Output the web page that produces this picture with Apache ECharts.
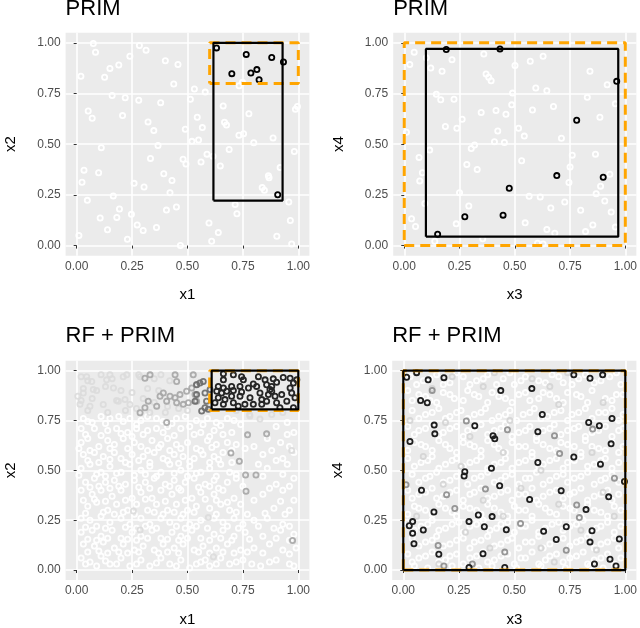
<!DOCTYPE html>
<html>
<head>
<meta charset="utf-8">
<script src="https://cdn.jsdelivr.net/npm/echarts@6/dist/echarts.min.js"></script>
<style>
  html, body { margin: 0; padding: 0; background: #fff; }
  #chart { width: 640px; height: 628px; }
</style>
</head>
<body>
<div id="chart"></div>
<script>
const ticks = [0, 0.25, 0.5, 0.75, 1];
const panelTitles = ["PRIM", "PRIM", "RF + PRIM", "RF + PRIM"];
const xNames = ["x1", "x3", "x1", "x3"];
const yNames = ["x2", "x4", "x2", "x4"];

// boxes: [xmin, xmax, ymin, ymax]
const primBoxes = [
  [0.617, 0.929, 0.222, 1.0],
  [0.098, 0.968, 0.044, 0.970],
  [0.609, 1.0, 0.806, 1.0],
  [0.0, 1.0, 0.0, 1.0]
];
const trueBoxes = [
  [0.6, 1.0, 0.8, 1.0],
  [0.0, 1.0, 0.0, 1.0],
  [0.6, 1.0, 0.8, 1.0],
  [0.0, 1.0, 0.0, 1.0]
];

// top left (x1, x2)
const tlWhite = [
  [0.075,0.997],[0.085,0.954],[0.283,0.987],[0.313,0.964],[0.400,0.912],[0.457,0.893],[0.190,0.891],
  [0.150,0.874],[0.126,0.830],[0.019,0.835],[0.240,0.934],[0.438,0.797],[0.531,0.772],[0.580,0.757],
  [0.513,0.722],[0.379,0.705],[0.280,0.717],[0.219,0.729],[0.160,0.740],[0.052,0.664],[0.070,0.628],
  [0.207,0.641],[0.322,0.610],[0.348,0.567],[0.490,0.574],[0.544,0.633],[0.567,0.582],[0.550,0.521],
  [0.520,0.514],[0.661,0.689],[0.667,0.608],[0.676,0.595],[0.777,0.650],[0.732,0.544],[0.753,0.552],
  [0.799,0.507],[0.886,0.531],[0.987,0.673],[0.996,0.686],[0.982,0.464],[0.918,0.385],[0.865,0.344],
  [0.868,0.334],[0.837,0.286],[0.847,0.273],[0.688,0.474],[0.648,0.393],[0.588,0.451],[0.615,0.441],
  [0.561,0.412],[0.480,0.426],[0.493,0.402],[0.333,0.430],[0.367,0.493],[0.111,0.483],[0.033,0.372],
  [0.024,0.312],[0.099,0.359],[0.393,0.354],[0.430,0.321],[0.259,0.307],[0.304,0.289],[0.421,0.261],
  [0.165,0.245],[0.048,0.223],[0.193,0.180],[0.106,0.136],[0.181,0.139],[0.247,0.154],[0.139,0.078],
  [0.229,0.031],[0.273,0.102],[0.300,0.074],[0.360,0.089],[0.405,0.175],[0.450,0.190],[0.715,0.202],
  [0.723,0.157],[0.597,0.111],[0.639,0.064],[0.609,0.021],[0.468,0.000],[0.010,0.050],[0.903,0.046],
  [0.970,0.008],[0.964,0.124],[0.957,0.215],[0.748,0.805],[0.733,0.788]
];
const tlBlack = [
  [0.631,0.975],[0.765,0.943],[0.880,0.928],[0.933,0.906],[0.700,0.848],[0.786,0.851],
  [0.813,0.868],[0.823,0.818],[0.907,0.251]
];

// top right (x3, x4)
const trWhite = [
  [0.045,0.954],[0.025,0.893],[0.100,0.926],[0.120,0.876],[0.171,0.860],[0.216,0.917],[0.360,0.945],
  [0.370,0.846],[0.382,0.830],[0.393,0.813],[0.501,0.888],[0.570,0.909],[0.628,0.934],[0.595,0.777],
  [0.645,0.764],[0.490,0.752],[0.840,0.860],[0.918,0.793],[0.955,0.699],[0.828,0.731],[0.675,0.686],
  [0.580,0.669],[0.460,0.648],[0.415,0.666],[0.486,0.694],[0.348,0.656],[0.262,0.623],[0.225,0.722],
  [0.165,0.719],[0.145,0.747],[0.186,0.587],[0.238,0.579],[0.423,0.565],[0.517,0.579],[0.543,0.540],
  [0.408,0.512],[0.453,0.509],[0.711,0.529],[0.885,0.633],[0.010,0.559],[0.067,0.435],[0.115,0.471],
  [0.082,0.359],[0.070,0.319],[0.303,0.479],[0.318,0.496],[0.283,0.400],[0.330,0.375],[0.531,0.418],
  [0.760,0.446],[0.865,0.451],[0.750,0.388],[0.930,0.352],[0.745,0.311],[0.888,0.293],[0.868,0.256],
  [0.907,0.220],[0.936,0.165],[0.798,0.174],[0.726,0.215],[0.663,0.185],[0.615,0.240],[0.565,0.243],
  [0.250,0.261],[0.292,0.195],[0.093,0.207],[0.235,0.107],[0.033,0.132],[0.051,0.094],[0.138,0.021],
  [0.355,0.033],[0.547,0.112],[0.645,0.079],[0.681,0.061],[0.603,0.012],[0.628,0.008],[0.820,0.069],
  [0.853,0.102],[0.955,0.091]
];
const trBlack = [
  [0.190,0.967],[0.433,0.970],[0.961,0.810],[0.780,0.618],[0.690,0.345],[0.900,0.337],
  [0.475,0.283],[0.274,0.142],[0.447,0.150],[0.151,0.056]
];

// bottom left (x1, x2)
const blWhite = [
  [0.03,0.76],[0.07,0.74],[0.11,0.77],[0.15,0.76],[0.19,0.77],[0.24,0.76],[0.29,0.75],[0.32,0.77],
  [0.36,0.76],[0.41,0.72],[0.45,0.76],[0.49,0.77],[0.54,0.75],[0.59,0.76],[0.63,0.74],[0.68,0.76],
  [0.74,0.73],[0.95,0.74],[0.98,0.69],[0.02,0.71],[0.08,0.71],[0.14,0.70],[0.18,0.71],[0.23,0.69],
  [0.27,0.71],[0.32,0.70],[0.36,0.71],[0.47,0.71],[0.51,0.72],[0.56,0.69],[0.62,0.70],[0.66,0.68],
  [0.02,0.64],[0.05,0.66],[0.10,0.62],[0.14,0.65],[0.17,0.63],[0.21,0.66],[0.26,0.64],[0.29,0.62],
  [0.34,0.65],[0.38,0.63],[0.41,0.66],[0.45,0.63],[0.50,0.64],[0.54,0.61],[0.59,0.65],[0.63,0.63],
  [0.68,0.64],[0.72,0.63],[0.80,0.62],[0.92,0.64],[0.98,0.59],[0.03,0.58],[0.08,0.59],[0.12,0.57],
  [0.17,0.59],[0.20,0.56],[0.25,0.58],[0.30,0.57],[0.35,0.59],[0.39,0.56],[0.44,0.58],[0.48,0.57],
  [0.53,0.56],[0.57,0.58],[0.62,0.57],[0.66,0.59],[0.84,0.58],[0.93,0.56],
  [0.02,0.51],[0.06,0.53],[0.11,0.49],[0.15,0.52],[0.20,0.49],[0.24,0.53],[0.29,0.50],[0.33,0.52],
  [0.38,0.49],[0.42,0.53],[0.47,0.50],[0.51,0.52],[0.56,0.49],[0.60,0.51],[0.65,0.53],[0.69,0.49],
  [0.86,0.51],[0.95,0.53],[0.98,0.46],[0.04,0.44],[0.08,0.46],[0.13,0.44],[0.17,0.45],[0.22,0.43],
  [0.26,0.45],[0.31,0.44],[0.35,0.46],[0.40,0.43],[0.44,0.45],[0.49,0.44],[0.53,0.46],[0.58,0.43],
  [0.62,0.45],[0.68,0.44],[0.72,0.46],[0.90,0.43],
  [0.02,0.40],[0.07,0.38],[0.11,0.40],[0.16,0.37],[0.20,0.40],[0.25,0.36],[0.29,0.39],[0.34,0.36],
  [0.38,0.40],[0.43,0.38],[0.47,0.40],[0.52,0.36],[0.56,0.39],[0.62,0.38],[0.66,0.40],[0.71,0.36],
  [0.84,0.38],[0.93,0.40],[0.98,0.35],[0.05,0.32],[0.09,0.34],[0.14,0.30],[0.18,0.33],[0.23,0.30],
  [0.27,0.33],[0.32,0.30],[0.36,0.33],[0.41,0.30],[0.45,0.33],[0.50,0.30],[0.54,0.32],[0.60,0.31],
  [0.65,0.33],[0.69,0.30],[0.74,0.33],[0.89,0.31],[0.96,0.30],
  [0.02,0.26],[0.06,0.25],[0.11,0.27],[0.15,0.24],[0.20,0.26],[0.24,0.23],[0.29,0.26],[0.33,0.23],
  [0.38,0.26],[0.42,0.24],[0.47,0.26],[0.51,0.23],[0.56,0.25],[0.62,0.26],[0.66,0.24],[0.71,0.26],
  [0.75,0.23],[0.80,0.25],[0.86,0.26],[0.93,0.23],[0.02,0.19],[0.07,0.20],[0.11,0.17],[0.16,0.20],
  [0.20,0.16],[0.25,0.19],[0.29,0.17],[0.34,0.20],[0.38,0.16],[0.43,0.19],[0.47,0.17],[0.52,0.20],
  [0.56,0.16],[0.62,0.18],[0.66,0.20],[0.71,0.17],[0.76,0.19],[0.84,0.17],[0.92,0.20],[0.98,0.18],
  [0.03,0.13],[0.08,0.12],[0.12,0.14],[0.17,0.11],[0.21,0.13],[0.26,0.10],[0.30,0.12],[0.35,0.10],
  [0.39,0.13],[0.44,0.11],[0.48,0.13],[0.53,0.10],[0.57,0.12],[0.63,0.11],[0.68,0.13],[0.74,0.10],
  [0.80,0.11],[0.87,0.13],[0.93,0.10],[0.99,0.11],[0.02,0.06],[0.06,0.04],[0.11,0.07],[0.15,0.03],
  [0.20,0.06],[0.24,0.02],[0.29,0.05],[0.33,0.02],[0.38,0.06],[0.42,0.03],[0.47,0.05],[0.51,0.01],
  [0.56,0.04],[0.60,0.02],[0.65,0.06],[0.69,0.03],[0.75,0.05],[0.83,0.02],[0.90,0.05],[0.96,0.03]
];
const blWhite2 = [
  [0.05,0.745],[0.13,0.735],[0.21,0.745],[0.27,0.73],[0.39,0.745],[0.43,0.735],[0.57,0.73],[0.65,0.725],
  [0.71,0.75],[0.90,0.72],[0.04,0.68],[0.11,0.675],[0.20,0.685],[0.25,0.67],[0.30,0.68],[0.39,0.69],
  [0.44,0.675],[0.53,0.68],[0.60,0.67],[0.70,0.69],[0.86,0.66],[0.95,0.68],[0.01,0.61],[0.06,0.60],
  [0.15,0.61],[0.23,0.61],[0.32,0.60],[0.37,0.615],[0.42,0.60],[0.47,0.61],[0.56,0.60],[0.61,0.615],
  [0.70,0.60],[0.76,0.61],[0.88,0.60],[0.96,0.62],[0.05,0.55],[0.10,0.54],[0.15,0.555],[0.22,0.54],
  [0.28,0.55],[0.33,0.54],[0.41,0.55],[0.46,0.535],[0.51,0.545],[0.60,0.54],[0.64,0.555],[0.70,0.54],
  [0.82,0.53],[0.90,0.55],[0.01,0.475],[0.09,0.48],[0.13,0.47],[0.18,0.485],[0.26,0.475],[0.31,0.48],
  [0.36,0.47],[0.44,0.485],[0.50,0.47],[0.54,0.485],[0.63,0.47],[0.72,0.48],[0.84,0.47],[0.93,0.48],
  [0.06,0.415],[0.10,0.42],[0.15,0.41],[0.19,0.42],[0.28,0.415],[0.33,0.41],[0.42,0.42],[0.46,0.41],
  [0.55,0.415],[0.60,0.42],[0.64,0.41],[0.75,0.42],[0.87,0.41],[0.96,0.42],[0.03,0.35],[0.08,0.355],
  [0.13,0.345],[0.22,0.35],[0.31,0.355],[0.40,0.345],[0.49,0.35],[0.58,0.355],[0.63,0.35],[0.68,0.34],
  [0.80,0.35],[0.92,0.345],[0.04,0.285],[0.12,0.29],[0.17,0.28],[0.21,0.29],[0.26,0.28],[0.35,0.29],
  [0.39,0.28],[0.44,0.29],[0.48,0.28],[0.53,0.29],[0.63,0.28],[0.72,0.29],[0.77,0.28],[0.85,0.285],
  [0.94,0.28],[0.04,0.215],[0.09,0.22],[0.13,0.21],[0.22,0.215],[0.27,0.21],[0.31,0.22],[0.36,0.21],
  [0.45,0.22],[0.49,0.21],[0.54,0.22],[0.59,0.21],[0.68,0.22],[0.73,0.21],[0.82,0.22],[0.89,0.21],
  [0.96,0.22],[0.05,0.155],[0.09,0.15],[0.14,0.16],[0.23,0.155],[0.27,0.15],[0.32,0.16],[0.41,0.155],
  [0.46,0.15],[0.50,0.16],[0.60,0.15],[0.65,0.16],[0.70,0.15],[0.78,0.155],[0.90,0.16],[0.96,0.15],
  [0.05,0.09],[0.10,0.095],[0.14,0.085],[0.19,0.09],[0.23,0.085],[0.28,0.09],[0.37,0.085],[0.41,0.09],
  [0.46,0.085],[0.55,0.09],[0.60,0.085],[0.66,0.09],[0.71,0.085],[0.77,0.09],[0.84,0.085],[0.96,0.08],
  [0.04,0.03],[0.09,0.02],[0.13,0.045],[0.18,0.03],[0.27,0.03],[0.36,0.035],[0.45,0.02],[0.54,0.03],
  [0.58,0.05],[0.63,0.03],[0.72,0.04],[0.79,0.03],[0.87,0.04],[0.98,0.02]
];
const blLight = [
  [0.02,0.97],[0.05,0.95],[0.11,0.98],[0.16,0.96],[0.21,0.97],[0.28,0.98],[0.35,0.96],[0.38,0.98],
  [0.42,0.95],[0.03,0.91],[0.09,0.90],[0.13,0.92],[0.20,0.90],[0.25,0.89],[0.32,0.91],[0.37,0.90],
  [0.02,0.85],[0.07,0.86],[0.12,0.83],[0.18,0.85],[0.24,0.83],[0.30,0.86],[0.35,0.84],[0.41,0.82],
  [0.46,0.81],[0.50,0.80],[0.05,0.80],[0.14,0.79],[0.22,0.80],[0.27,0.81],[0.33,0.79],[0.40,0.79],
  [0.72,0.80],[0.78,0.78],[0.88,0.78],[0.93,0.79],[0.188,0.847],[0.218,0.855],[0.015,0.831],
  [0.030,0.888],[0.005,0.872],[0.150,0.979],[0.068,0.946],[0.045,0.970],[0.075,0.905],[0.166,0.913],
  [0.135,0.954],[0.226,0.979],[0.286,0.970],[0.782,0.773],[0.827,0.757],[0.060,0.822],
  [0.617,0.066],[0.286,0.201],[0.256,0.296],[0.594,0.263],[0.970,0.600]
];
const blMid = [
  [0.526,0.979],[0.541,0.930],[0.519,0.913],[0.496,0.897],[0.466,0.880],[0.444,0.864],[0.421,0.872],
  [0.406,0.847],[0.451,0.839],[0.481,0.831],[0.504,0.839],[0.534,0.880],[0.541,0.847],[0.361,0.822],
  [0.323,0.847],[0.308,0.814],[0.286,0.789],[0.376,0.872],[0.391,0.888],[0.308,0.962],[0.331,0.979],
  [0.444,0.979],[0.451,0.946],[0.771,0.678],[0.857,0.683],[0.696,0.587],[0.734,0.546],[0.762,0.477],
  [0.809,0.477],[0.406,0.740],[0.764,0.395],[0.974,0.148]
];
const blGray = [
  [0.602,0.905],[0.579,0.888],[0.571,0.946],[0.556,0.938],[0.541,0.929],[0.586,0.847],[0.579,0.814],
  [0.594,0.806],[0.564,0.798],[0.541,0.880],[0.534,0.847]
];
const blDark = [
  [0.662,0.984],[0.662,0.954],[0.707,0.979],[0.744,0.970],[0.752,0.954],[0.820,0.970],[0.850,0.954],
  [0.887,0.959],[0.902,0.942],[0.932,0.966],[0.963,0.962],[0.978,0.938],[0.857,0.929],[0.880,0.921],
  [0.872,0.905],[0.797,0.933],[0.775,0.913],[0.737,0.921],[0.699,0.921],[0.662,0.913],[0.639,0.921],
  [0.632,0.897],[0.654,0.888],[0.677,0.897],[0.707,0.900],[0.744,0.893],[0.737,0.872],[0.699,0.872],
  [0.669,0.855],[0.639,0.864],[0.624,0.839],[0.662,0.831],[0.707,0.839],[0.729,0.822],[0.782,0.864],
  [0.827,0.888],[0.835,0.855],[0.865,0.880],[0.895,0.872],[0.880,0.897],[0.925,0.880],[0.963,0.913],
  [0.970,0.888],[0.985,0.864],[0.948,0.847],[0.902,0.839],[0.835,0.831],[0.797,0.831],[0.759,0.831],
  [0.917,0.814],[0.978,0.814],[0.857,0.847],[0.812,0.921],[0.993,0.954]
];

// bottom right (x3, x4)
const brWhite = [
  [0.03,0.97],[0.09,0.95],[0.15,0.98],[0.21,0.94],[0.27,0.97],[0.33,0.95],[0.38,0.98],[0.45,0.96],
  [0.50,0.93],[0.55,0.97],[0.61,0.95],[0.67,0.98],[0.72,0.94],[0.79,0.96],[0.86,0.94],[0.93,0.97],
  [0.98,0.93],[0.02,0.90],[0.07,0.88],[0.12,0.85],[0.18,0.89],[0.23,0.86],[0.29,0.90],[0.34,0.87],
  [0.40,0.89],[0.46,0.86],[0.52,0.88],[0.57,0.85],[0.63,0.89],[0.69,0.86],[0.74,0.89],[0.80,0.87],
  [0.85,0.90],[0.91,0.86],[0.96,0.88],[0.04,0.80],[0.10,0.78],[0.16,0.81],[0.21,0.77],[0.26,0.80],
  [0.32,0.78],[0.37,0.81],[0.43,0.77],[0.48,0.80],[0.54,0.78],[0.59,0.81],[0.65,0.77],[0.71,0.80],
  [0.76,0.78],[0.82,0.81],[0.88,0.79],[0.94,0.81],[0.99,0.78],[0.02,0.72],[0.07,0.70],[0.13,0.73],
  [0.18,0.69],[0.24,0.72],[0.29,0.70],[0.35,0.73],[0.41,0.70],[0.46,0.73],[0.52,0.69],[0.57,0.72],
  [0.63,0.70],[0.68,0.73],[0.74,0.70],[0.79,0.72],[0.85,0.69],[0.91,0.72],[0.97,0.70],[0.05,0.64],
  [0.10,0.62],[0.16,0.65],[0.21,0.61],[0.27,0.64],[0.32,0.62],[0.38,0.65],[0.43,0.61],[0.49,0.64],
  [0.55,0.62],[0.60,0.65],[0.66,0.61],[0.71,0.64],[0.77,0.62],[0.82,0.65],[0.88,0.61],[0.94,0.64],
  [0.99,0.62],[0.02,0.56],[0.08,0.54],[0.13,0.57],[0.19,0.53],[0.24,0.56],[0.30,0.54],[0.35,0.57],
  [0.41,0.53],[0.46,0.56],[0.52,0.54],[0.58,0.57],[0.63,0.53],[0.69,0.56],[0.74,0.54],[0.80,0.57],
  [0.86,0.53],[0.91,0.56],[0.97,0.54],[0.04,0.48],[0.10,0.46],[0.15,0.49],[0.21,0.45],[0.27,0.48],
  [0.32,0.46],[0.38,0.49],[0.44,0.45],[0.49,0.48],[0.55,0.46],[0.60,0.49],[0.66,0.45],[0.72,0.48],
  [0.77,0.46],[0.83,0.49],[0.89,0.45],[0.94,0.48],[0.02,0.40],[0.07,0.38],[0.13,0.41],[0.18,0.37],
  [0.24,0.40],[0.30,0.38],[0.35,0.41],[0.41,0.37],[0.47,0.40],[0.52,0.38],[0.58,0.41],[0.63,0.37],
  [0.69,0.40],[0.75,0.38],[0.80,0.41],[0.86,0.37],[0.92,0.40],[0.97,0.38],[0.05,0.32],[0.10,0.30],
  [0.16,0.33],[0.22,0.29],[0.27,0.32],[0.33,0.30],[0.38,0.33],[0.44,0.29],[0.50,0.32],[0.55,0.30],
  [0.61,0.33],[0.66,0.29],[0.72,0.32],[0.77,0.30],[0.83,0.33],[0.89,0.29],[0.95,0.32],[0.02,0.24],
  [0.08,0.22],[0.13,0.25],[0.19,0.21],[0.25,0.24],[0.30,0.22],[0.36,0.25],[0.42,0.21],[0.47,0.24],
  [0.53,0.22],[0.58,0.25],[0.64,0.21],[0.70,0.24],[0.75,0.22],[0.81,0.25],[0.87,0.21],[0.92,0.24],
  [0.98,0.22],[0.04,0.16],[0.10,0.14],[0.15,0.17],[0.21,0.13],[0.27,0.16],[0.32,0.14],[0.38,0.17],
  [0.44,0.13],[0.49,0.16],[0.55,0.14],[0.61,0.17],[0.66,0.13],[0.72,0.16],[0.78,0.14],[0.83,0.17],
  [0.89,0.13],[0.95,0.16],[0.02,0.08],[0.07,0.06],[0.13,0.09],[0.19,0.05],[0.24,0.08],[0.30,0.06],
  [0.36,0.09],[0.41,0.05],[0.47,0.08],[0.53,0.06],[0.58,0.09],[0.64,0.05],[0.69,0.08],[0.75,0.06],
  [0.81,0.09],[0.86,0.05],[0.92,0.08],[0.98,0.06],[0.05,0.02],[0.11,0.01],[0.22,0.02],[0.34,0.01],
  [0.40,0.02],[0.51,0.01],[0.62,0.02],[0.73,0.01],[0.84,0.02],[0.90,0.01]
];
const brWhite2 = [
  [0.06,0.93],[0.12,0.96],[0.18,0.93],[0.24,0.99],[0.30,0.93],[0.36,0.96],[0.42,0.93],[0.48,0.99],
  [0.53,0.95],[0.64,0.94],[0.70,0.97],[0.76,0.93],[0.82,0.98],[0.89,0.95],[0.96,0.99],[0.04,0.85],
  [0.10,0.87],[0.15,0.84],[0.21,0.88],[0.27,0.85],[0.32,0.88],[0.38,0.84],[0.43,0.87],[0.49,0.84],
  [0.55,0.89],[0.61,0.86],[0.66,0.88],[0.72,0.84],[0.78,0.88],[0.83,0.84],[0.94,0.85],[0.99,0.88],
  [0.07,0.76],[0.13,0.79],[0.19,0.76],[0.24,0.79],[0.29,0.76],[0.35,0.79],[0.40,0.75],[0.46,0.78],
  [0.51,0.75],[0.57,0.79],[0.62,0.76],[0.68,0.79],[0.74,0.75],[0.79,0.79],[0.85,0.76],[0.91,0.79],
  [0.97,0.75],[0.05,0.68],[0.10,0.71],[0.16,0.68],[0.21,0.71],[0.27,0.67],[0.32,0.71],[0.38,0.68],
  [0.44,0.71],[0.49,0.67],[0.55,0.70],[0.60,0.67],[0.66,0.71],[0.71,0.68],[0.77,0.71],[0.82,0.67],
  [0.88,0.70],[0.94,0.67],[0.99,0.71],[0.02,0.60],[0.08,0.63],[0.13,0.60],[0.19,0.63],[0.24,0.59],
  [0.30,0.63],[0.35,0.60],[0.41,0.63],[0.46,0.59],[0.52,0.62],[0.58,0.59],[0.63,0.63],[0.69,0.60],
  [0.74,0.63],[0.80,0.59],[0.85,0.62],[0.91,0.60],[0.97,0.59],[0.05,0.52],[0.11,0.55],[0.16,0.51],
  [0.22,0.55],[0.27,0.52],[0.33,0.55],[0.38,0.51],[0.44,0.54],[0.49,0.51],[0.55,0.55],[0.61,0.52],
  [0.66,0.55],[0.72,0.51],[0.77,0.55],[0.83,0.52],[0.89,0.55],[0.94,0.51],[0.07,0.44],[0.12,0.47],
  [0.18,0.44],[0.24,0.47],[0.29,0.43],[0.35,0.47],[0.41,0.44],[0.46,0.47],[0.52,0.43],[0.57,0.46],
  [0.63,0.43],[0.69,0.47],[0.74,0.44],[0.80,0.47],[0.86,0.43],[0.91,0.46],[0.97,0.44],[0.04,0.36],
  [0.10,0.39],[0.15,0.36],[0.21,0.39],[0.27,0.35],[0.32,0.39],[0.38,0.36],[0.44,0.39],[0.49,0.35],
  [0.55,0.38],[0.60,0.35],[0.66,0.39],[0.72,0.36],[0.77,0.39],[0.83,0.35],[0.89,0.38],[0.94,0.35],
  [0.02,0.28],[0.07,0.31],[0.13,0.28],[0.19,0.31],[0.24,0.27],[0.30,0.31],[0.35,0.28],[0.41,0.31],
  [0.47,0.27],[0.52,0.30],[0.58,0.27],[0.64,0.31],[0.69,0.28],[0.75,0.31],[0.80,0.27],[0.86,0.30],
  [0.92,0.27],[0.98,0.30],[0.05,0.20],[0.11,0.23],[0.16,0.20],[0.22,0.23],[0.27,0.19],[0.33,0.23],
  [0.39,0.20],[0.44,0.23],[0.50,0.19],[0.55,0.22],[0.61,0.19],[0.67,0.23],[0.72,0.20],[0.78,0.23],
  [0.84,0.19],[0.89,0.22],[0.95,0.19],[0.07,0.12],[0.13,0.15],[0.18,0.12],[0.24,0.15],[0.30,0.11],
  [0.35,0.15],[0.41,0.12],[0.47,0.15],[0.52,0.11],[0.58,0.14],[0.63,0.11],[0.69,0.15],[0.75,0.12],
  [0.80,0.15],[0.86,0.11],[0.92,0.14],[0.97,0.11],[0.04,0.04],[0.10,0.07],[0.16,0.04],[0.21,0.07],
  [0.27,0.03],[0.33,0.07],[0.38,0.04],[0.44,0.07],[0.50,0.03],[0.55,0.06],[0.61,0.03],[0.66,0.07],
  [0.72,0.04],[0.78,0.07],[0.83,0.03],[0.89,0.06],[0.95,0.03]
];
const brLight = [
  [0.13,0.91],[0.22,0.97],[0.36,0.92],[0.41,0.99],[0.58,0.96],[0.66,0.92],[0.74,0.99],[0.03,0.75],
  [0.19,0.74],[0.30,0.67],[0.48,0.75],[0.70,0.83],[0.90,0.84],[0.09,0.57],[0.26,0.52],[0.45,0.59],
  [0.62,0.50],[0.85,0.59],[0.18,0.43],[0.36,0.35],[0.53,0.41],[0.70,0.33],[0.90,0.39],[0.06,0.27],
  [0.28,0.19],[0.45,0.27],[0.62,0.11],[0.80,0.20],[0.95,0.27],[0.16,0.03],[0.39,0.11],[0.68,0.04],
  [0.87,0.10]
];
const brMid = [
  [0.130,0.901],[0.284,0.748],[0.469,0.704],[0.681,0.674],[0.704,0.584],[0.853,0.707],[0.370,0.406],
  [0.781,0.326],[0.195,0.378],[0.232,0.309],[0.528,0.234],[0.793,0.263],[0.157,0.123],[0.457,0.090],
  [0.311,0.030],[0.183,0.020],[0.734,0.099],[0.951,0.461],[0.012,0.428]
];
const brDark = [
  [0.015,0.967],[0.060,0.990],[0.112,0.954],[0.183,0.965],[0.078,0.850],[0.108,0.839],[0.439,0.900],
  [0.579,0.910],[0.626,0.780],[0.768,0.979],[0.841,0.962],[0.898,0.979],[0.030,0.645],[0.139,0.727],
  [0.142,0.683],[0.322,0.724],[0.404,0.674],[0.412,0.658],[0.606,0.694],[0.606,0.539],[0.768,0.567],
  [0.835,0.740],[0.883,0.724],[0.940,0.760],[0.936,0.633],[0.888,0.531],[0.397,0.510],[0.277,0.493],
  [0.274,0.472],[0.082,0.400],[0.434,0.423],[0.711,0.398],[0.569,0.354],[0.823,0.303],[0.925,0.367],
  [0.138,0.291],[0.296,0.243],[0.338,0.276],[0.400,0.268],[0.365,0.217],[0.464,0.202],[0.632,0.194],
  [0.734,0.217],[0.850,0.197],[0.042,0.243],[0.027,0.222],[0.042,0.184],[0.090,0.201],[0.048,0.132],
  [0.160,0.079],[0.359,0.082],[0.689,0.153],[0.841,0.140],[0.973,0.156],[0.931,0.054],[0.861,0.030],
  [0.958,0.020],[0.296,0.013],[0.457,0.013],[0.996,0.444]
];

// layout of the four panels (pixels)
const grids = [
  { left: 65.6, top: 32.7, width: 243.8, height: 223 },
  { left: 393.2, top: 32.7, width: 243.8, height: 223 },
  { left: 65.6, top: 360.7, width: 243.8, height: 222.6 },
  { left: 392.2, top: 360.7, width: 244.8, height: 222.6 }
];

const font = "Liberation Sans, Arial, Helvetica, sans-serif";

function makeAxis(i, isX) {
  return {
    type: "value",
    gridIndex: i,
    min: -0.05,
    max: 1.05,
    name: isX ? xNames[i] : yNames[i],
    nameLocation: "middle",
    nameGap: isX ? 32 : 47,
    nameTextStyle: { color: "#000", fontSize: 15, fontFamily: font },
    axisLine: { show: false },
    axisTick: { show: true, length: 3, lineStyle: { color: "#333", width: 1 }, customValues: ticks },
    axisLabel: {
      customValues: ticks,
      color: "#4d4d4d",
      fontSize: 12,
      fontFamily: font,
      margin: 5,
      formatter: v => v.toFixed(2)
    },
    splitLine: { show: true, lineStyle: { color: "#fff", width: 1.6 } }
  };
}

function ring(i, data, color, opacity, z) {
  return {
    type: "scatter",
    xAxisIndex: i,
    yAxisIndex: i,
    data: data,
    symbolSize: 5.2,
    silent: true,
    z: z || 2,
    itemStyle: { color: "rgba(0,0,0,0)", borderColor: color, borderWidth: 1.8, opacity: opacity }
  };
}

function rect(i, b, dashed) {
  return {
    type: "line",
    xAxisIndex: i,
    yAxisIndex: i,
    data: [[b[0], b[2]], [b[1], b[2]], [b[1], b[3]], [b[0], b[3]], [b[0], b[2]]],
    symbol: "none",
    silent: true,
    z: dashed ? 4 : 5,
    lineStyle: dashed
      ? { color: "#FFA500", width: 3, type: [10, 6] }
      : { color: "#000", width: 2.2 }
  };
}

const chart = echarts.init(document.getElementById("chart"));

const series = [
  ring(0, tlWhite, "#ffffff", 1),
  ring(0, tlBlack, "#000000", 1, 3),
  ring(1, trWhite, "#ffffff", 1),
  ring(1, trBlack, "#000000", 1, 3),
  ring(2, blWhite, "#ffffff", 0.95),
  ring(2, blWhite2, "#ffffff", 0.95),
  ring(2, blLight, "#dcdcdc", 0.9),
  ring(2, blMid, "#a6a6a6", 0.9),
  ring(2, blGray, "#6a6a6a", 0.9),
  ring(2, blDark, "#262626", 1, 3),
  ring(3, brWhite, "#ffffff", 0.95),
  ring(3, brWhite2, "#ffffff", 0.95),
  ring(3, brLight, "#d4d4d4", 0.9),
  ring(3, brMid, "#8c8c8c", 0.9),
  ring(3, brDark, "#1e1e1e", 1, 3)
];
for (let i = 0; i < 4; i++) {
  series.push(rect(i, trueBoxes[i], true));
  series.push(rect(i, primBoxes[i], false));
}

chart.setOption({
  animation: false,
  backgroundColor: "#fff",
  title: grids.map((g, i) => ({
    text: panelTitles[i],
    left: g.left,
    top: i < 2 ? -2 : 325,
    padding: 0,
    textStyle: { color: "#000", fontSize: 22, fontWeight: "normal", fontFamily: font }
  })),
  grid: grids.map(g => Object.assign({ show: true, backgroundColor: "#ebebeb", borderWidth: 0 }, g)),
  xAxis: [0, 1, 2, 3].map(i => makeAxis(i, true)),
  yAxis: [0, 1, 2, 3].map(i => makeAxis(i, false)),
  series: series
});
</script>
</body>
</html>
